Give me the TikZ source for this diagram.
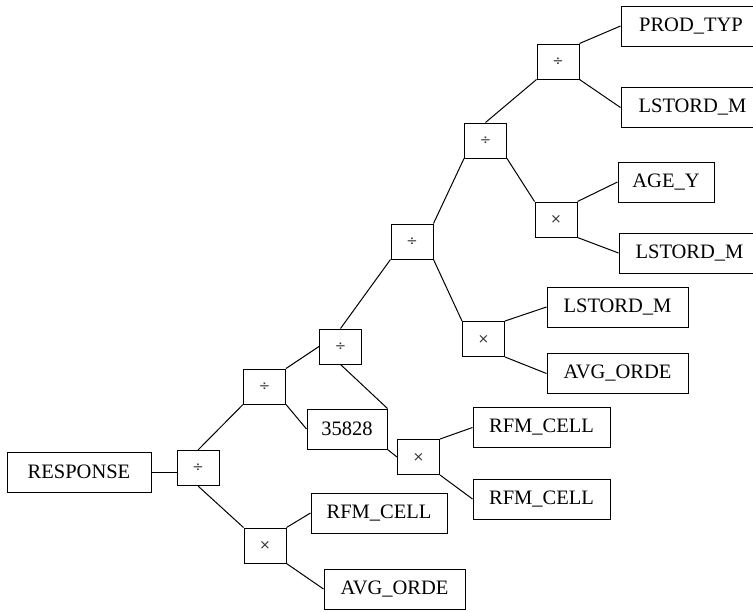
\documentclass[tikz,border=0pt]{standalone}
\usepackage{fontspec}
\setmainfont{Liberation Serif}
\newfontfamily\opfont{DejaVu Sans}
\begin{document}
\begin{tikzpicture}[x=1pt,y=-1pt,
  leaf/.style={draw, line width=1pt, minimum height=40pt, inner sep=0pt,
    font=\fontsize{20.5}{24}\selectfont},
  op/.style={draw, line width=1pt, minimum width=42pt, minimum height=35pt,
    inner sep=0pt, text=black!80, font=\opfont\fontsize{13.5}{16}\selectfont},
  edge/.style={line width=1pt}]
\useasboundingbox (0,0) rectangle (753,611);

% operator nodes
\node[op] (d1) at (198,468)   {÷};
\node[op] (m1) at (265,545.5) {×};
\node[op] (d2) at (264.5,386.5) {÷};
\node[op] (d3) at (340.5,346.5) {÷};
\node[op] (m2) at (418.5,457) {×};
\node[op] (d4) at (412,241.5) {÷};
\node[op] (m3) at (483.5,339) {×};
\node[op] (d5) at (485.5,140.5) {÷};
\node[op] (m4) at (556,219.5) {×};
\node[op] (d6) at (558,61.5) {÷};

% terminal nodes
\node[leaf, minimum width=144pt] (resp) at (79,472)    {RESPONSE};
\node[leaf, minimum width=136pt] (rc1)  at (379,513)   {RFM\_CELL};
\node[leaf, minimum width=141pt] (ao1)  at (394.5,589) {AVG\_ORDE};
\node[leaf, minimum width=80pt]  (num)  at (347,429)   {35828};
\node[leaf, minimum width=137pt] (rc2)  at (541.5,427.5) {RFM\_CELL};
\node[leaf, minimum width=137pt] (rc3)  at (541.5,499) {RFM\_CELL};
\node[leaf, minimum width=141pt] (lm3)  at (617.5,307) {LSTORD\_M};
\node[leaf, minimum width=141pt] (ao2)  at (617.5,373.5) {AVG\_ORDE};
\node[leaf, minimum width=96pt]  (age)  at (666,182)   {AGE\_Y};
\node[leaf, minimum width=141pt] (lm2)  at (689.5,253) {LSTORD\_M};
\node[leaf, minimum width=140pt] (pt)   at (691,26)    {PROD\_TYP};
\node[leaf, minimum width=143pt] (lm1)  at (692.5,107.5) {LSTORD\_M};

% connectors
\draw[edge] (resp.east) -- (resp.east -| d1.west);
\draw[edge] (d1.north) -- (d2.south west);
\draw[edge] (d1.south) -- (m1.north west);
\draw[edge] (m1.north east) -- (rc1.west);
\draw[edge] (m1.south east) -- (ao1.west);
\draw[edge] (d2.north east) -- (d3.west);
\draw[edge] (d2.south east) -- (num.west);
\draw[edge] (d3.south) -- (num.north east);
\draw[edge] (d3.north) -- (d4.south west);
\draw[edge] (num.south east) -- (m2.west);
\draw[edge] (m2.north east) -- (rc2.west);
\draw[edge] (m2.south east) -- (rc3.west);
\draw[edge] (d4.north east) -- (d5.south west);
\draw[edge] (d4.south east) -- (m3.north west);
\draw[edge] (m3.north east) -- (lm3.west);
\draw[edge] (m3.south east) -- (ao2.west);
\draw[edge] (d5.north) -- (d6.south west);
\draw[edge] (d5.south east) -- (m4.north west);
\draw[edge] (d6.north east) -- (pt.west);
\draw[edge] (d6.south east) -- (lm1.west);
\draw[edge] (m4.north east) -- (age.west);
\draw[edge] (m4.south east) -- (lm2.west);
\end{tikzpicture}
\end{document}
